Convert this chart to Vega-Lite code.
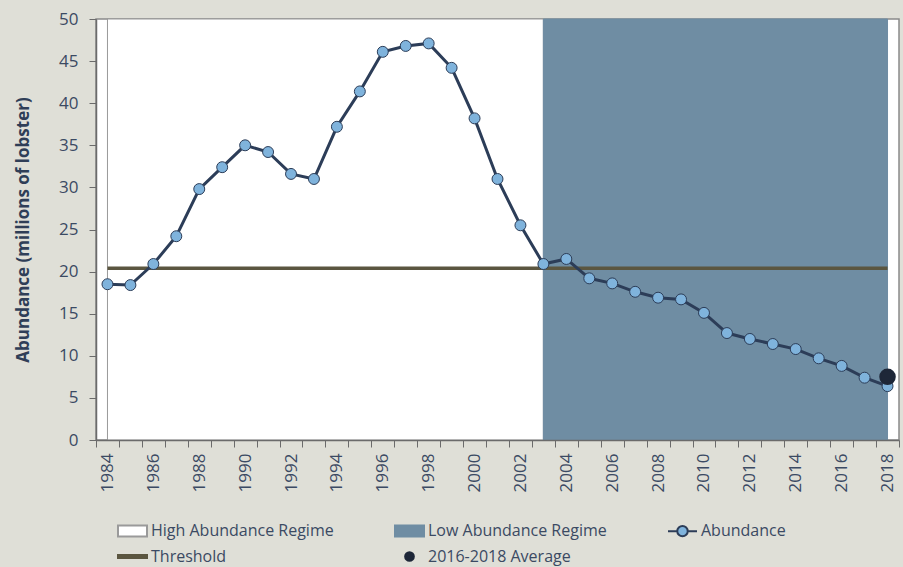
{
  "$schema": "https://vega.github.io/schema/vega-lite/v6.json",
  "width": 803,
  "height": 421,
  "autosize": {"type": "none"},
  "padding": {"left": 96, "top": 19, "right": 4, "bottom": 127},
  "background": "#dfdfd7",
  "config": {
    "font": "Open Sans",
    "view": {"stroke": "#8a8a8a", "strokeWidth": 1.5, "fill": "#ffffff"},
    "axis": {"labelFont": "Open Sans", "labelFontSize": 17, "labelColor": "#3b4a63", "domainColor": "#6b6b6b", "tickColor": "#6b6b6b", "tickSize": 7, "domainWidth": 1.5, "grid": false},
    "legend": {"labelFont": "Open Sans", "labelFontSize": 16, "labelColor": "#3b4a63", "labelLimit": 400}
  },
  "datasets": {
    "abundance": [
      {"year": 1984, "value": 18.5, "series": "Abundance"},
      {"year": 1985, "value": 18.4, "series": "Abundance"},
      {"year": 1986, "value": 20.9, "series": "Abundance"},
      {"year": 1987, "value": 24.2, "series": "Abundance"},
      {"year": 1988, "value": 29.8, "series": "Abundance"},
      {"year": 1989, "value": 32.4, "series": "Abundance"},
      {"year": 1990, "value": 35.0, "series": "Abundance"},
      {"year": 1991, "value": 34.2, "series": "Abundance"},
      {"year": 1992, "value": 31.6, "series": "Abundance"},
      {"year": 1993, "value": 31.0, "series": "Abundance"},
      {"year": 1994, "value": 37.2, "series": "Abundance"},
      {"year": 1995, "value": 41.4, "series": "Abundance"},
      {"year": 1996, "value": 46.1, "series": "Abundance"},
      {"year": 1997, "value": 46.8, "series": "Abundance"},
      {"year": 1998, "value": 47.1, "series": "Abundance"},
      {"year": 1999, "value": 44.2, "series": "Abundance"},
      {"year": 2000, "value": 38.2, "series": "Abundance"},
      {"year": 2001, "value": 31.0, "series": "Abundance"},
      {"year": 2002, "value": 25.5, "series": "Abundance"},
      {"year": 2003, "value": 20.9, "series": "Abundance"},
      {"year": 2004, "value": 21.5, "series": "Abundance"},
      {"year": 2005, "value": 19.2, "series": "Abundance"},
      {"year": 2006, "value": 18.6, "series": "Abundance"},
      {"year": 2007, "value": 17.6, "series": "Abundance"},
      {"year": 2008, "value": 16.9, "series": "Abundance"},
      {"year": 2009, "value": 16.7, "series": "Abundance"},
      {"year": 2010, "value": 15.1, "series": "Abundance"},
      {"year": 2011, "value": 12.7, "series": "Abundance"},
      {"year": 2012, "value": 12.0, "series": "Abundance"},
      {"year": 2013, "value": 11.4, "series": "Abundance"},
      {"year": 2014, "value": 10.8, "series": "Abundance"},
      {"year": 2015, "value": 9.7, "series": "Abundance"},
      {"year": 2016, "value": 8.8, "series": "Abundance"},
      {"year": 2017, "value": 7.4, "series": "Abundance"},
      {"year": 2018, "value": 6.4, "series": "Abundance"}
    ],
    "average": [
      {"year": 2018, "value": 7.5, "series": "2016-2018 Average"}
    ],
    "regimes": [
      {"start": 1984, "end": 2003, "series": "High Abundance Regime"},
      {"start": 2003, "end": 2018, "series": "Low Abundance Regime"}
    ],
    "threshold": [
      {"start": 1984, "end": 2018, "value": 20.4, "series": "Threshold"}
    ]
  },
  "layer": [
    {
      "data": {"name": "regimes"},
      "mark": {"type": "rect", "strokeWidth": 1},
      "encoding": {
        "x": {"field": "start", "type": "ordinal", "bandPosition": 0.5},
        "x2": {"field": "end", "bandPosition": 0.5},
        "y": {"datum": 0, "type": "quantitative"},
        "y2": {"datum": 50},
        "fill": {"field": "series", "type": "nominal"},
        "stroke": {"field": "series", "type": "nominal"}
      }
    },
    {
      "data": {"name": "threshold"},
      "mark": {"type": "rule", "color": "#5b5640", "strokeWidth": 3.5},
      "encoding": {
        "x": {"field": "start", "type": "ordinal", "bandPosition": 0.5},
        "x2": {"field": "end", "bandPosition": 0.5},
        "y": {"field": "value", "type": "quantitative"}
      }
    },
    {
      "data": {"name": "abundance"},
      "mark": {"type": "line", "color": "#2c3d58", "strokeWidth": 3},
      "encoding": {
        "x": {"field": "year", "type": "ordinal"},
        "y": {"field": "value", "type": "quantitative"}
      }
    },
    {
      "data": {"name": "abundance"},
      "mark": {"type": "point", "shape": "circle", "filled": true, "fill": "#7fb3dc", "stroke": "#2c3d58", "strokeWidth": 1, "size": 120, "opacity": 1},
      "encoding": {
        "x": {"field": "year", "type": "ordinal"},
        "y": {"field": "value", "type": "quantitative"}
      }
    },
    {
      "data": {"name": "average"},
      "mark": {"type": "point", "filled": true, "size": 2350, "opacity": 1},
      "encoding": {
        "x": {"field": "year", "type": "ordinal", "axis": {"title": null, "labelAngle": 270, "tickBand": "extent", "labelExpr": "datum.value % 2 == 0 ? datum.label : ''", "labelPadding": 6}},
        "y": {"field": "value", "type": "quantitative", "scale": {"domain": [0, 50], "nice": false}, "axis": {"title": "Abundance (millions of lobster)", "titleFontSize": 17, "titleFontWeight": "bold", "titleColor": "#2f3e57", "titleFont": "Open Sans", "values": [0, 5, 10, 15, 20, 25, 30, 35, 40, 45, 50], "labelPadding": 11, "titlePadding": 26}},
        "shape": {"field": "series", "type": "nominal",
          "scale": {"domain": ["High Abundance Regime", "Low Abundance Regime", "Abundance", "Threshold", "2016-2018 Average"],
                    "range": ["M-1,-0.38H1V0.38H-1Z", "M-1,-0.38H1V0.38H-1Z", "M-1,0H-0.36M0.36,0H1M-0.36,0A0.36,0.36,0,1,1,0.36,0A0.36,0.36,0,1,1,-0.36,0Z", "M-1,-0.11H1V0.11H-1Z", "M-0.3,0A0.3,0.3,0,1,1,0.3,0A0.3,0.3,0,1,1,-0.3,0Z"]},
          "legend": {"title": null, "orient": "none", "legendX": 21, "legendY": 496, "direction": "horizontal", "columns": 3, "columnPadding": 57, "rowPadding": -1, "symbolSize": 841, "labelOffset": 3, "symbolStrokeWidth": 2}},
        "fill": {"field": "series", "type": "nominal",
          "scale": {"domain": ["High Abundance Regime", "Low Abundance Regime", "Abundance", "Threshold", "2016-2018 Average"],
                    "range": ["#ffffff", "#6f8da3", "#7fb3dc", "#5b5640", "#1e2738"]},
          "legend": {"title": null, "orient": "none", "legendX": 21, "legendY": 496, "direction": "horizontal", "columns": 3, "columnPadding": 57, "rowPadding": -1, "symbolSize": 841, "labelOffset": 3, "symbolStrokeWidth": 2}},
        "stroke": {"field": "series", "type": "nominal",
          "scale": {"domain": ["High Abundance Regime", "Low Abundance Regime", "Abundance", "Threshold", "2016-2018 Average"],
                    "range": ["#9a9a9a", "#6f8da3", "#2c3d58", "#5b5640", "#1e2738"]},
          "legend": {"title": null, "orient": "none", "legendX": 21, "legendY": 496, "direction": "horizontal", "columns": 3, "columnPadding": 57, "rowPadding": -1, "symbolSize": 841, "labelOffset": 3, "symbolStrokeWidth": 2}}
      }
    }
  ]
}
